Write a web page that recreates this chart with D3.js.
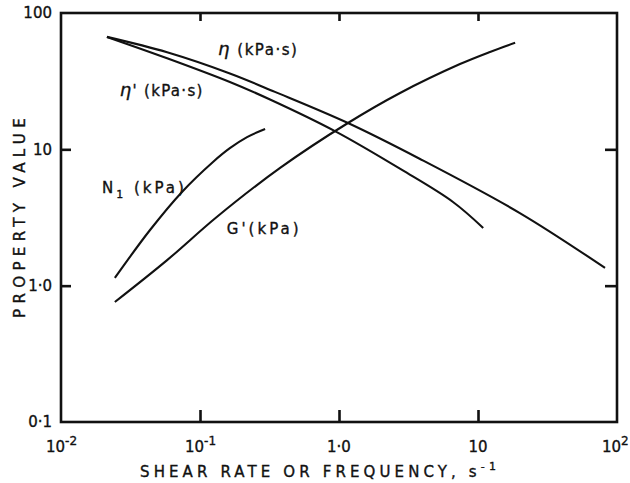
<!DOCTYPE html>
<html lang="en">
<head>
  <meta charset="UTF-8" />
  <title>Property value vs shear rate</title>
  <script src="https://d3js.org/d3.v7.min.js"></script>
  <style>
    body { margin: 0; background: #fff; }
    svg { font-family: "DejaVu Sans", sans-serif; }
    .curve { fill: none; stroke: #111; stroke-width: 2.1; }
    .frame { fill: none; stroke: #111; stroke-width: 2.6; }
    .lbl { font-size: 15px; fill: #111; stroke: #111; stroke-width: 0.35; }
  </style>
</head>
<body>
  <svg width="630" height="483"></svg>

  <script>
    // values
    const etaRate = [0.0214, 0.058, 0.164, 0.346, 1.16, 3.83, 20.0, 82];
    const eta     = [66.8, 51.5, 36.0, 26.4, 15.6, 8.5, 3.41, 1.35];

    const etaPRate = [0.0214, 0.058, 0.164, 0.319, 0.935, 2.84, 6.61, 10.9];
    const etaPrime = [66.8, 46.6, 31.2, 23.2, 13.6, 7.06, 4.11, 2.65];

    const gRate  = [0.0244, 0.058, 0.132, 0.377, 1.16, 2.75, 7.42, 12.2, 18.5];
    const gPrime = [0.759, 1.54, 3.19, 7.31, 15.6, 25.9, 42.2, 51.8, 60.4];

    const n1Rate = [0.0244, 0.0437, 0.0742, 0.124, 0.164, 0.218, 0.294];
    const n1     = [1.14, 2.56, 4.87, 8.08, 10.2, 12.3, 14.1];

    const xTicks    = [0.01, 0.1, 1, 10, 100];
    const xTickBase = ["10", "10", "1·0", "10", "10"];
    const xTickSup  = ["-2", "-1", "", "", "2"];
    const yTicks     = [0.1, 1, 10, 100];
    const yTickLabel = ["0·1", "1·0", "10", "100"];

    const svg = d3.select("svg");

    const x = d3.scaleLog().domain([0.01, 100]).range([61, 617]);
    const y = d3.scaleLog().domain([0.1, 100]).range([422, 13]);
    const [x0, x1] = x.range(), [y0, y1] = y.range();

    // inner ticks (no domain line, the frame is drawn separately)
    const inner = [0.1, 1, 10];
    const axB = svg.append("g").attr("transform", `translate(0,${y0})`)
      .call(d3.axisBottom(x).tickValues(inner).tickSize(-12).tickFormat(""));
    const axT = svg.append("g").attr("transform", `translate(0,${y1})`)
      .call(d3.axisTop(x).tickValues(inner).tickSize(-8).tickFormat(""));
    const axL = svg.append("g").attr("transform", `translate(${x0},0)`)
      .call(d3.axisLeft(y).tickValues([1, 10]).tickSize(-10).tickFormat(""));
    const axR = svg.append("g").attr("transform", `translate(${x1},0)`)
      .call(d3.axisRight(y).tickValues([1, 10]).tickSize(-12).tickFormat(""));
    [axB, axT, axL, axR].forEach(a => {
      a.select(".domain").remove();
      a.selectAll("line").attr("stroke", "#111").attr("stroke-width", 2.6);
    });

    svg.append("rect").attr("class", "frame")
      .attr("x", x0).attr("y", y1).attr("width", x1 - x0).attr("height", y0 - y1);

    // tick labels
    xTicks.forEach((v, i) => {
      const t = svg.append("text").attr("class", "lbl")
        .attr("x", xTickSup[i] ? x(v) - 15 : x(v)).attr("y", 452)
        .attr("text-anchor", xTickSup[i] ? "start" : "middle");
      t.append("tspan").text(xTickBase[i]);
      if (xTickSup[i]) t.append("tspan").attr("dy", -7).style("font-size", "12px").text(xTickSup[i]);
    });
    yTicks.forEach((v, i) => {
      svg.append("text").attr("class", "lbl")
        .attr("x", 52).attr("y", y(v)).attr("dy", "0.36em")
        .attr("text-anchor", "end")
        .text(yTickLabel[i]);
    });

    // curves
    const line = d3.line().x(d => x(d[0])).y(d => y(d[1])).curve(d3.curveCatmullRom.alpha(0.5));
    [[etaRate, eta], [etaPRate, etaPrime], [gRate, gPrime], [n1Rate, n1]].forEach(([xs, ys]) => {
      svg.append("path").attr("class", "curve").attr("d", line(d3.zip(xs, ys)));
    });

    // curve labels: [rate, value] of text start
    function label(rx, vy, parts, spacing) {
      const t = svg.append("text").attr("class", "lbl")
        .attr("x", x(rx)).attr("y", y(vy)).style("letter-spacing", spacing + "px");
      parts.forEach(p => {
        const s = t.append("tspan").text(p.t);
        if (p.dy) s.attr("dy", p.dy);
        if (p.size) s.style("font-size", p.size + "px");
        if (p.italic) s.style("font-style", "italic");
      });
    }
    label(0.135, 49, [{t: "η", italic: true, size: 18}, {t: " (kPa·s)"}], 1.5);
    label(0.0265, 24.6, [{t: "η", italic: true, size: 18}, {t: "' (kPa·s)"}], 1.3);
    label(0.0197, 4.79, [{t: "N"}, {t: "1", dy: 5, size: 11}, {t: " (kPa)", dy: -5}], 3);
    label(0.156, 2.39, [{t: "G'(kPa)"}], 3);

    // axis titles, stretched to the width seen in the picture
    function fit(sel, target) {
      const n = sel.text().length;
      const w = sel.node().getComputedTextLength();
      sel.style("letter-spacing", ((target - w) / n) + "px");
    }
    const xt = svg.append("text").attr("class", "lbl").attr("x", 140).attr("y", 477);
    xt.append("tspan").text("SHEAR RATE OR FREQUENCY, s");
    xt.append("tspan").attr("dy", -7).style("font-size", "11px").text("-1");
    fit(xt, 360);

    const yt = svg.append("text").attr("class", "lbl")
      .attr("transform", `translate(25,318) rotate(-90)`)
      .text("PROPERTY VALUE");
    fit(yt, 205);
  </script>
</body>
</html>
